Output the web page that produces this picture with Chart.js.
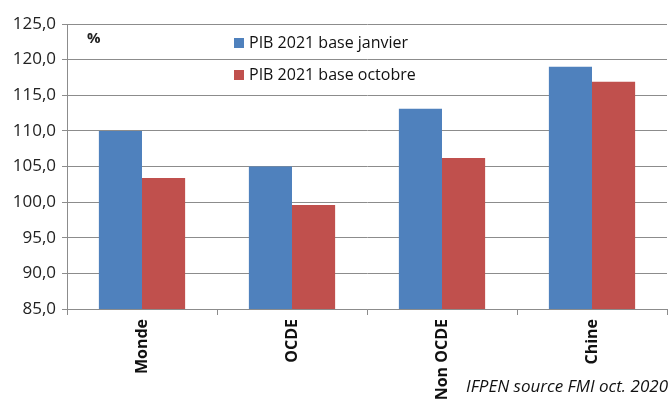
<!DOCTYPE html>
<html>
<head>
<meta charset="utf-8">
<script src="https://cdn.jsdelivr.net/npm/chart.js@4"></script>
<style>
  html, body { margin: 0; padding: 0; background: #fff; }
  #wrap { width: 668px; height: 399px; position: relative; }
</style>
</head>
<body>
<div id="wrap"><canvas id="pibChart" width="668" height="399"></canvas></div>
<script>
// data
const categories = ['Monde', 'OCDE', 'Non OCDE', 'Chine'];
const pibJanvier = [110.0, 105.0, 113.1, 119.0];
const pibOctobre = [103.4, 99.6, 106.2, 116.9];
const seriesLabels = ['PIB 2021 base janvier', 'PIB 2021 base octobre'];
const unitLabel = '%';
const sourceLabel = 'IFPEN source FMI oct. 2020';

const blue = '#4F81BD';
const red = '#C0504D';
const gridGrey = '#8c8c8c';

// legend, unit and source drawn inside the chart like the original
const overlayText = {
    id: 'overlayText',
    afterDraw(chart) {
        const ctx = chart.ctx;
        ctx.save();
        ctx.fillStyle = '#222';
        ctx.font = 'bold 15px "Open Sans"';
        ctx.textBaseline = 'middle';
        ctx.fillText(unitLabel, 87, 39);

        ctx.font = '16px "Open Sans"';
        chart.data.datasets.forEach((ds, i) => {
            const y = 43 + i * 32;
            ctx.fillStyle = ds.backgroundColor;
            ctx.fillRect(234, y - 5, 10, 10);
            ctx.fillStyle = '#111';
            ctx.fillText(ds.label, 249, y);
        });

        ctx.font = 'italic 17px "Open Sans"';
        ctx.textAlign = 'right';
        ctx.textBaseline = 'alphabetic';
        ctx.fillStyle = '#111';
        ctx.fillText(sourceLabel, 668, 392);
        ctx.restore();
    }
};

const ctx = document.getElementById('pibChart').getContext('2d');
new Chart(ctx, {
    type: 'bar',
    data: {
        labels: categories,
        datasets: [
            { label: seriesLabels[0], data: pibJanvier, backgroundColor: blue },
            { label: seriesLabels[1], data: pibOctobre, backgroundColor: red }
        ]
    },
    options: {
        responsive: false,
        animation: false,
        layout: { padding: { top: 24, right: 1, left: 0, bottom: 0 } },
        datasets: {
            bar: { categoryPercentage: 0.575, barPercentage: 1.0 }
        },
        plugins: {
            legend: { display: false },
            tooltip: { enabled: false }
        },
        scales: {
            x: {
                afterFit: (scale) => { scale.height = 90; },
                border: { color: gridGrey, width: 1 },
                grid: {
                    drawOnChartArea: false,
                    drawTicks: true,
                    tickLength: 6,
                    color: gridGrey,
                    offset: true
                },
                ticks: {
                    minRotation: 90,
                    maxRotation: 90,
                    autoSkip: false,
                    padding: 4,
                    color: '#111',
                    font: { family: 'Open Sans', size: 16, weight: 'bold' }
                }
            },
            y: {
                min: 85,
                max: 125,
                afterFit: (scale) => { scale.width = 67; },
                border: { color: gridGrey, width: 1 },
                grid: {
                    color: gridGrey,
                    lineWidth: 1,
                    drawTicks: true,
                    tickLength: 5
                },
                ticks: {
                    stepSize: 5,
                    padding: 6,
                    color: '#222',
                    font: { family: 'Open Sans', size: 17 },
                    callback: (v) => v.toFixed(1).replace('.', ',')
                }
            }
        }
    },
    plugins: [overlayText]
});
</script>
</body>
</html>
